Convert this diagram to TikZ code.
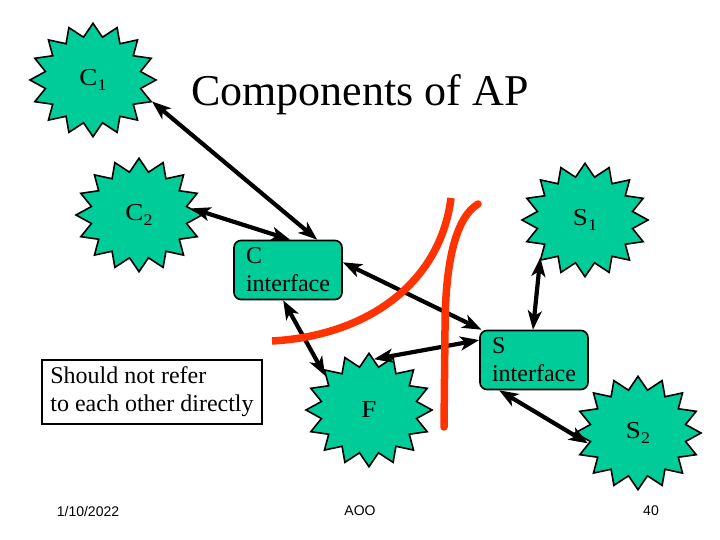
\documentclass[tikz,border=0pt]{standalone}
\usepackage{fontspec}
\setmainfont{Liberation Serif}
\newfontfamily\footfont{Liberation Sans}
\usetikzlibrary{arrows.meta,shapes.geometric}

\definecolor{compgreen}{HTML}{00CC99}
\definecolor{wallred}{HTML}{FF3300}
\newcommand{\subidx}[1]{\raisebox{-0.45ex}{\fontsize{18}{18}\selectfont #1}}

\begin{document}
\begin{tikzpicture}[
    x=1pt, y=-1pt,
    compstar/.style={star, star points=16, star point ratio=1.3, minimum size=126pt, inner sep=0pt, yscale=0.9, draw, line width=1.6pt, fill=compgreen, font=\fontsize{27}{27}\selectfont},
    iface/.style={rectangle, rounded corners=7pt, draw, line width=1.6pt, fill=compgreen, align=left, minimum width=108pt, minimum height=59pt, inner sep=0pt, font=\fontsize{24}{28}\selectfont},
    link/.style={{Stealth[length=19pt,width=14pt,inset=5pt]}-{Stealth[length=19pt,width=14pt,inset=5pt]}, line width=4.2pt},
    wall/.style={draw=wallred, line width=7.5pt},
    foot/.style={font=\footfont\fontsize{14}{14}\selectfont}
]
\useasboundingbox (0,0) rectangle (720,540);

% Title
\node (title) at (360,95) {\fontsize{44}{48}\selectfont Components of AP};

% Components
\node[compstar] (C1) at (93,80) {C\subidx{1}};
\node[compstar] (C2) at (139,215) {C\subidx{2}};
\node[compstar] (S1) at (585,220) {S\subidx{1}};
\node[compstar] (F) at (369,410) {F};
\node[compstar] (S2) at (638,433) {S\subidx{2}};

% Interfaces
\node[iface] (Cif) at (288,270) {C\\interface};
\node[iface] (Sif) at (534,360) {S\\interface};

% Note
\node[draw, line width=1.6pt, align=left, minimum width=220pt, minimum height=64pt, inner sep=0pt, font=\fontsize{24}{28}\selectfont] (note) at (152,392) {Should not refer\\to each other directly};

% Links
\draw[link] (C1.-22) -- (Cif.46);
\draw[link] (C2.8) -- (Cif.86);
\draw[link] (Cif.8) -- (Sif.150);
\draw[link] (Cif.-99) -- (F.139);
\draw[link] (F.85) -- (Sif.160);
\draw[link] (S1.-137) -- (Sif.92);
\draw[link] (Sif.-139) -- (S2.-167);

% Walls
\draw[wall] (272,341) .. controls (365,336) and (440,285) .. (451,198);
\draw[wall, line cap=round] (478,204) .. controls (455,218) and (445,265) .. (445,330) -- (444,427);

% Footer
\node[foot] (date) at (88,511) {1/10/2022};
\node[foot] (course) at (360,511) {AOO};
\node[foot] (page) at (651,511) {40};

\end{tikzpicture}
\end{document}
